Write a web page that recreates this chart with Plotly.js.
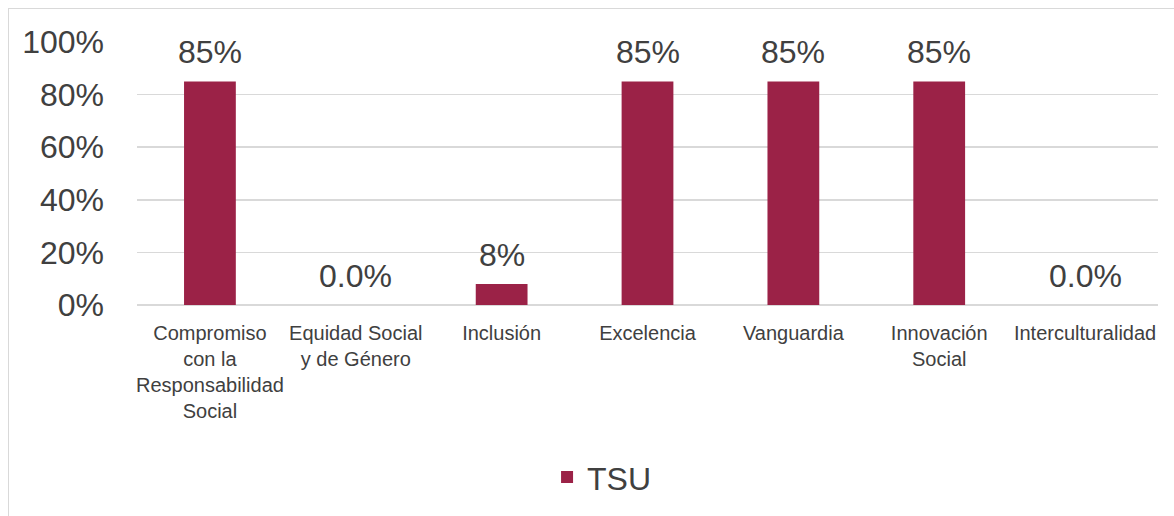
<!DOCTYPE html>
<html>
<head>
<meta charset="utf-8">
<script src="https://cdn.plot.ly/plotly-3.0.1.min.js"></script>
<style>
  html, body { margin: 0; padding: 0; overflow: hidden; background: #fff; }
  #frame { position: absolute; left: 8px; top: 8px; width: 1200px; height: 600px; border: 1.5px solid #d9d9d9; box-sizing: border-box; pointer-events: none; }
  #chart { position: absolute; left: 0; top: 0; width: 1174px; height: 516px; }
</style>
</head>
<body>
<div id="chart"></div>
<div id="frame"></div>
<script>
const categories = [
  "Compromiso<br>con la<br>Responsabilidad<br>Social",
  "Equidad Social<br>y de Género",
  "Inclusión",
  "Excelencia",
  "Vanguardia",
  "Innovación<br>Social",
  "Interculturalidad"
];
const values = [0.85, 0.0, 0.08, 0.85, 0.85, 0.85, 0.0];
const valueLabels = ["85%", "0.0%", "8%", "85%", "85%", "85%", "0.0%"];
const seriesName = "TSU";
const yTickVals = [0, 0.2, 0.4, 0.6, 0.8, 1.0];
const yTickText = ["0%", "20%", "40%", "60%", "80%", "100%"];

const FONT = '"Liberation Sans Narrow", "Arial Narrow", "Liberation Sans", Arial, sans-serif';
const TXT = '#404040';
const BAR = '#9B2247';

const trace = {
  type: 'bar',
  x: categories,
  y: values,
  name: seriesName,
  marker: { color: BAR },
  hoverinfo: 'skip'
};

const annotations = categories.map((c, i) => ({
  x: c, y: values[i], xref: 'x', yref: 'y',
  text: valueLabels[i], showarrow: false,
  yanchor: 'bottom', yshift: 9,
  font: { family: FONT, size: 32, color: TXT }
}));

const layout = {
  width: 1174, height: 516,
  margin: { l: 137, r: 16, t: 42, b: 211 },
  paper_bgcolor: 'rgba(0,0,0,0)',
  plot_bgcolor: '#fff',
  bargap: 0.645,
  showlegend: true,
  legend: {
    orientation: 'h', x: 0.455, xanchor: 'center', y: -0.655, yanchor: 'middle',
    font: { family: FONT, size: 32, color: TXT }
  },
  xaxis: {
    type: 'category',
    tickfont: { family: FONT, size: 20, color: TXT },
    tickangle: 0,
    showgrid: false, zeroline: false, showline: false,
    ticks: '', ticklabelstandoff: 14
  },
  yaxis: {
    range: [0, 1],
    tickvals: yTickVals, ticktext: yTickText,
    tickfont: { family: FONT, size: 32, color: TXT },
    showgrid: true, gridcolor: '#d9d9d9', gridwidth: 1.5,
    zeroline: true, zerolinecolor: '#d9d9d9', zerolinewidth: 1.5,
    showline: false, ticks: '', ticklabelstandoff: 32
  },
  annotations: annotations
};

Plotly.newPlot('chart', [trace], layout, { displayModeBar: false, staticPlot: true });
</script>
</body>
</html>
